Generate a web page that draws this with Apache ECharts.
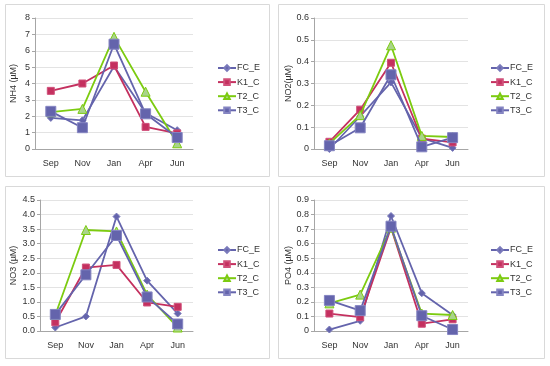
<!DOCTYPE html>
<html><head><meta charset="utf-8">
<script src="https://cdn.jsdelivr.net/npm/echarts@6/dist/echarts.min.js"></script>
<style>html,body{margin:0;padding:0;background:#fff}#c{width:550px;height:366px}</style>
</head><body><div id="c"></div>
<script>
var categories = ['Sep','Nov','Jan','Apr','Jun'];
var seriesNames = ['FC_E','K1_C','T2_C','T3_C'];

var nh4_FC_E = [1.9, 1.75, 5.05, 2.2, 1.15];
var nh4_K1_C = [3.55, 4.0, 5.1, 1.35, 0.95];
var nh4_T2_C = [2.25, 2.45, 6.85, 3.5, 0.35];
var nh4_T3_C = [2.3, 1.3, 6.4, 2.15, 0.7];

var no2_FC_E = [0.0, 0.15, 0.305, 0.05, 0.005];
var no2_K1_C = [0.033, 0.18, 0.395, 0.048, 0.03];
var no2_T2_C = [0.025, 0.155, 0.475, 0.06, 0.055];
var no2_T3_C = [0.015, 0.097, 0.34, 0.01, 0.052];

var no3_FC_E = [0.12, 0.5, 3.93, 1.73, 0.6];
var no3_K1_C = [0.3, 2.18, 2.27, 0.98, 0.83];
var no3_T2_C = [0.55, 3.47, 3.42, 1.25, 0.12];
var no3_T3_C = [0.57, 1.93, 3.28, 1.17, 0.24];

var po4_FC_E = [0.01, 0.07, 0.79, 0.26, 0.11];
var po4_K1_C = [0.12, 0.095, 0.71, 0.05, 0.08];
var po4_T2_C = [0.19, 0.25, 0.71, 0.12, 0.11];
var po4_T3_C = [0.21, 0.14, 0.72, 0.105, 0.01];

var yTicksNH4 = {min:0, max:8, interval:1, fmt:0};
var yTicksNO2 = {min:0, max:0.6, interval:0.1, fmt:-1};
var yTicksNO3 = {min:0, max:4.5, interval:0.5, fmt:1};
var yTicksPO4 = {min:0, max:0.9, interval:0.1, fmt:-1};

var panels = [
  {name:'NH4 (µM)', ticks:yTicksNH4, data:[nh4_FC_E,nh4_K1_C,nh4_T2_C,nh4_T3_C],
   grid:{left:35,top:18,width:158,height:131}, legend:{left:217,top:63.5}, box:[5,4,264,172], gap:17},
  {name:'NO2(µM)', ticks:yTicksNO2, data:[no2_FC_E,no2_K1_C,no2_T2_C,no2_T3_C],
   grid:{left:314,top:18,width:154,height:131}, legend:{left:490,top:63.5}, box:[278,4,266,172], gap:21},
  {name:'NO3 (µM)', ticks:yTicksNO3, data:[no3_FC_E,no3_K1_C,no3_T2_C,no3_T3_C],
   grid:{left:40,top:200,width:153,height:131}, legend:{left:217,top:245.5}, box:[5,186,264,172], gap:22},
  {name:'PO4 (µM)', ticks:yTicksPO4, data:[po4_FC_E,po4_K1_C,po4_T2_C,po4_T3_C],
   grid:{left:314,top:200,width:154,height:131}, legend:{left:490,top:245.5}, box:[278,186,266,172], gap:21}
];

var styles = [
  {symbol:'diamond', size:7, color:'#6464AC', border:'#7A7ABB', lw:1.8},
  {symbol:'rect', size:7, color:'#C4305F', border:'#D0507A', lw:1.8},
  {symbol:'triangle', size:9, color:'#A9D48A', border:'#7CCB10', lw:1.8, line:'#7CCB10'},
  {symbol:'rect', size:10, color:'#6464AC', border:'#8585C2', lw:1.8}
];

var FONT = 'Liberation Sans';
var txt = '#333333';
var option = {animation:false, grid:[], xAxis:[], yAxis:[], series:[], legend:[], graphic:[]};

panels.forEach(function(p, i){
  option.graphic.push({type:'rect', shape:{x:p.box[0]+0.5,y:p.box[1]+0.5,width:p.box[2],height:p.box[3]},
    style:{fill:'none', stroke:'#D9D9D9', lineWidth:1}, z:-1});
  option.grid.push(p.grid);
  option.xAxis.push({type:'category', gridIndex:i, data:categories, boundaryGap:true,
    axisLine:{lineStyle:{color:'#A6A6A6'}}, axisTick:{length:4, lineStyle:{color:'#A6A6A6'}},
    axisLabel:{color:txt, fontSize:9, fontFamily:FONT, margin:10}});
  var t = p.ticks;
  option.yAxis.push({type:'value', gridIndex:i, min:t.min, max:t.max, interval:t.interval,
    name:p.name, nameLocation:'middle', nameGap:p.gap, nameRotate:90,
    nameTextStyle:{color:txt, fontSize:9, fontFamily:FONT},
    axisLine:{show:true, lineStyle:{color:'#A6A6A6'}}, axisTick:{show:true, length:3, lineStyle:{color:'#A6A6A6'}},
    splitLine:{lineStyle:{color:'#E3E3E3'}},
    axisLabel:{color:txt, fontSize:9, fontFamily:FONT, margin:5,
      formatter:function(v){ if(t.fmt<0){ return String(Math.round(v*10)/10);} return v.toFixed(t.fmt);} }});
  option.legend.push({orient:'vertical', left:p.legend.left, top:p.legend.top, itemWidth:18, itemHeight:7, itemGap:5.1,
    padding:0, textStyle:{color:txt, fontSize:9, fontFamily:FONT, padding:[0,0,0,-4]},
    data:seriesNames.map(function(n){return {name:n};})});
  seriesNames.forEach(function(n, k){
    var s = styles[k];
    option.series.push({type:'line', name:n, xAxisIndex:i, yAxisIndex:i, data:p.data[k],
      symbol:s.symbol, symbolSize:s.size, showAllSymbol:true,
      lineStyle:{color:s.line||s.color, width:s.lw},
      itemStyle:{color:s.color, borderColor:s.border, borderWidth:1},
      z:2+k});
  });
});

var chart = echarts.init(document.getElementById('c'), null, {renderer:'canvas'});
chart.setOption(option);
</script></body></html>
